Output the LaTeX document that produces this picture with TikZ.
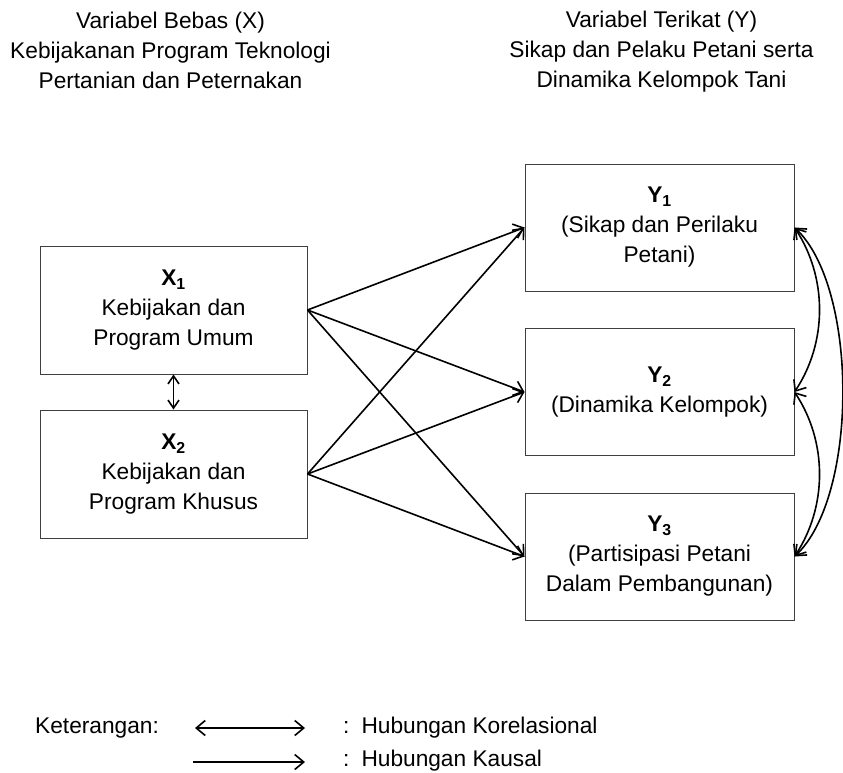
\documentclass[tikz,border=0pt]{standalone}
\usepackage{fontspec}
\setmainfont{Liberation Sans}
\usetikzlibrary{arrows.meta}
\begin{document}
\begin{tikzpicture}[x=1pt,y=-1pt,
  box/.style={draw=black!75, line width=1pt, rectangle, minimum width=267pt, minimum height=128pt, align=center, inner sep=0pt, font=\fontsize{22.7}{30}\selectfont},
  ybox/.style={box, minimum width=269pt, minimum height=127pt},
  lbl/.style={align=center, font=\fontsize{22.7}{30}\selectfont, inner sep=0pt},
  causal/.style={line width=1.6pt, -{Straight Barb[length=9pt,width=15pt]}},
  corr/.style={line width=1.6pt, {Straight Barb[length=9pt,width=15pt]}-{Straight Barb[length=9pt,width=15pt]}},
  smallcorr/.style={line width=1.6pt, {Straight Barb[length=8pt,width=11pt]}-{Straight Barb[length=8pt,width=11pt]}},
]
\useasboundingbox (0,0) rectangle (843,773);

% headings
\node[lbl] (tx) at (170.5,50) {Variabel Bebas (X)\\Kebijakanan Program Teknologi\\Pertanian dan Peternakan};
\node[lbl] (ty) at (661.5,52) {Variabel Terikat (Y)\\Sikap dan Pelaku Petani serta\\Dinamika Kelompok Tani};

% boxes
\node[box] (x1) at (173.5,310) {\textbf{X\textsubscript{1}}\\Kebijakan dan\\Program Umum};
\node[box] (x2) at (173.5,474) {\textbf{X\textsubscript{2}}\\Kebijakan dan\\Program Khusus};
\node[ybox] (y1) at (659.5,227.5) {\textbf{Y\textsubscript{1}}\\(Sikap dan Perilaku\\Petani)};
\node[ybox] (y2) at (659.5,392) {\textbf{Y\textsubscript{2}}\\(Dinamika Kelompok)};
\node[ybox] (y3) at (659.5,556.5) {\textbf{Y\textsubscript{3}}\\(Partisipasi Petani\\Dalam Pembangunan)};

% causal arrows
\draw[causal] (x1.east) -- (y1.west);
\draw[causal] (x1.east) -- (y2.west);
\draw[causal] (x1.east) -- (y3.west);
\draw[causal] (x2.east) -- (y1.west);
\draw[causal] (x2.east) -- (y2.west);
\draw[causal] (x2.east) -- (y3.west);

% correlations
\draw[smallcorr] (x1.south) -- (x2.north);
\draw[corr] (y1.east) .. controls +(33,50) and +(33,-50) .. (y2.east);
\draw[corr] (y2.east) .. controls +(33,50) and +(33,-50) .. (y3.east);
\draw[corr] (y1.east) .. controls +(64,60) and +(64,-60) .. (y3.east);

% legend
\node[lbl, anchor=base west] (ket) at (35,733) {Keterangan:};
\coordinate (la1) at (195,728);
\coordinate (lb1) at (305,728);
\draw[corr] (la1) -- (lb1);
\coordinate (la2) at (193,762);
\coordinate (lb2) at (305,762);
\draw[causal] (la2) -- (lb2);
\node[lbl, anchor=base west] (k1) at (343,733) {:\hspace{12pt}Hubungan Korelasional};
\node[lbl, anchor=base west] (k2) at (343,766) {:\hspace{12pt}Hubungan Kausal};
\end{tikzpicture}
\end{document}
